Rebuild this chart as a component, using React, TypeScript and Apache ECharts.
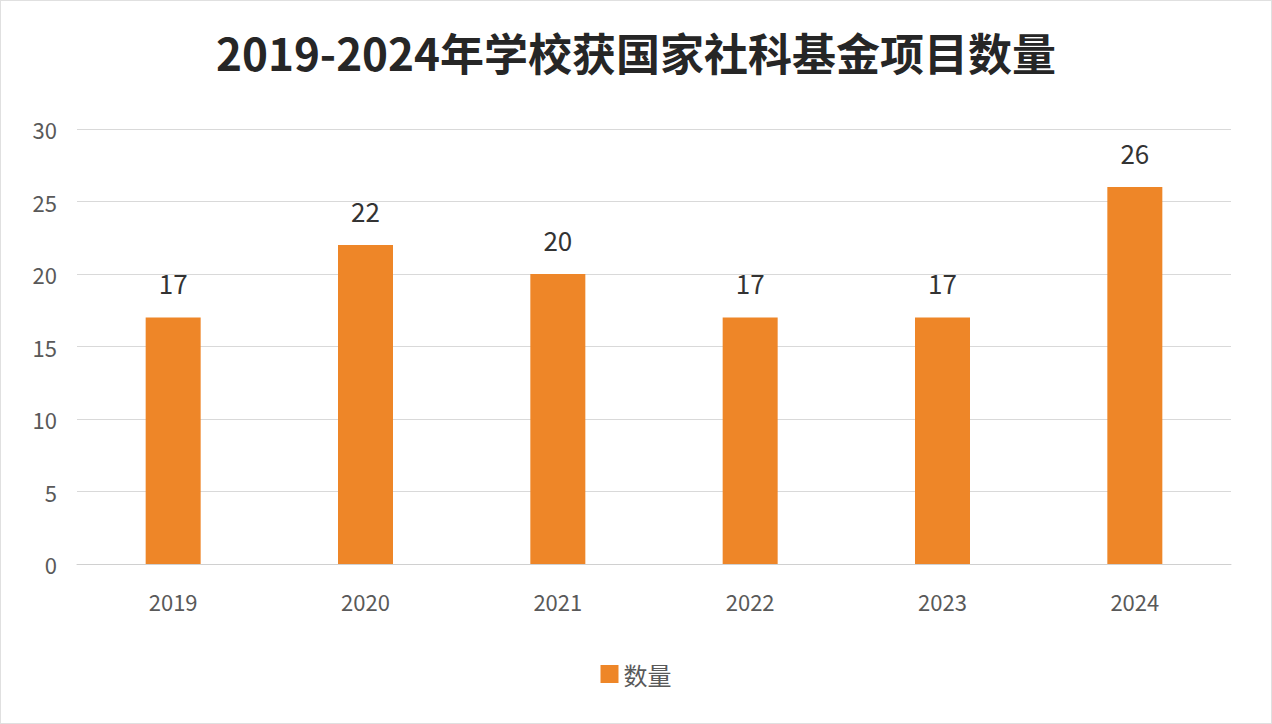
import { useEffect, useRef } from 'react'
import * as echarts from 'echarts'

const years = ['2019', '2020', '2021', '2022', '2023', '2024']
const counts = [17, 22, 20, 17, 17, 26]
const seriesName = '数量'
const titleText = '2019-2024年学校获国家社科基金项目数量'

const font = '"Noto Sans CJK SC", "Open Sans", sans-serif'

export default function App() {
  const chartRef = useRef<HTMLDivElement>(null)

  useEffect(() => {
    document.body.style.margin = '0'
    if (!chartRef.current) return
    const chart = echarts.init(chartRef.current, undefined, { renderer: 'svg' })

    const option: echarts.EChartsOption = {
      animation: false,
      backgroundColor: '#ffffff',
      textStyle: { fontFamily: font },
      title: {
        text: titleText,
        left: 'center',
        top: 24,
        textStyle: { fontSize: 44, fontWeight: 'bold', color: '#262626', fontFamily: font },
      },
      legend: {
        bottom: 32,
        left: 'center',
        itemWidth: 18,
        itemHeight: 18,
        itemGap: 12,
        icon: 'rect',
        textStyle: { fontSize: 24, color: '#595959', fontFamily: font },
        data: [seriesName],
      },
      grid: { left: 76, right: 40, top: 128, bottom: 159 },
      xAxis: {
        type: 'category',
        data: years,
        axisLine: { lineStyle: { color: '#d0d0d0' } },
        axisTick: { show: false },
        axisLabel: { color: '#595959', fontSize: 22, margin: 26, fontFamily: font },
      },
      yAxis: {
        type: 'value',
        min: 0,
        max: 30,
        interval: 5,
        axisLine: { show: false },
        axisTick: { show: false },
        axisLabel: { color: '#595959', fontSize: 22, margin: 20, fontFamily: font },
        splitLine: { lineStyle: { color: '#d9d9d9' } },
      },
      series: [
        {
          name: seriesName,
          type: 'bar',
          data: counts,
          barWidth: 55,
          itemStyle: { color: '#EE8628' },
          label: {
            show: true,
            position: 'top',
            distance: 22,
            color: '#333333',
            fontSize: 26,
            fontFamily: font,
          },
        },
      ],
    }
    chart.setOption(option)
    return () => chart.dispose()
  }, [])

  return (
    <div
      ref={chartRef}
      style={{ width: 1272, height: 724, boxSizing: 'border-box', border: '1px solid #e0e0e0' }}
    />
  )
}
